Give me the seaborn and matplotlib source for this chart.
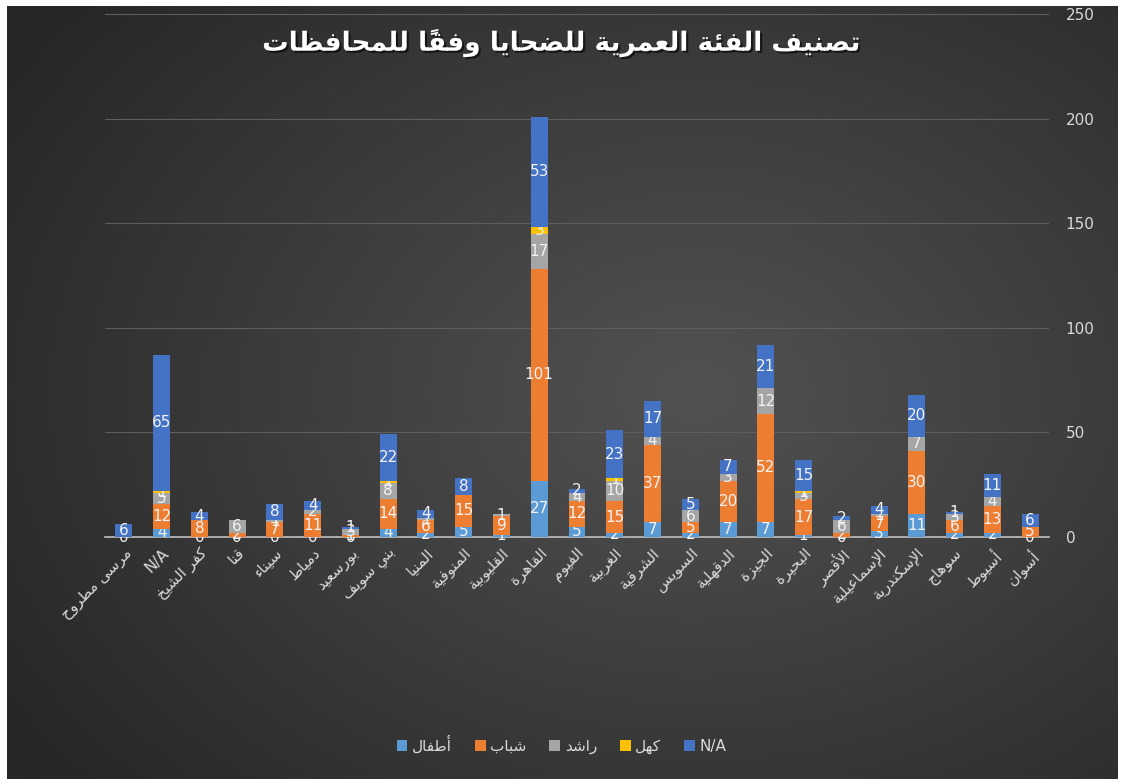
import numpy as np
import pandas as pd
import matplotlib
matplotlib.use("Agg")
import matplotlib.pyplot as plt
import matplotlib.patheffects as pe
from matplotlib.patches import Patch
import seaborn as sns

# data (left -> right)
governorates = ["مرسى مطروح", "N/A", "كفر الشيخ", "قنا", "سيناء", "دمياط", "بورسعيد",
                "بني سويف", "المنيا", "المنوفية", "القليوبية", "القاهرة", "الفيوم",
                "الغربية", "الشرقية", "السويس", "الدقهلية", "الجيزة", "البحيرة",
                "الأقصر", "الإسماعيلية", "الإسكندرية", "سوهاج", "أسيوط", "أسوان"]
children = [0, 4, 0, 0, 0, 0, 0, 4, 2, 5, 1, 27, 5, 2, 7, 2, 7, 7, 1, 0, 3, 11, 2, 2, 0]
youth    = [0, 12, 8, 2, 7, 11, 1, 14, 6, 15, 9, 101, 12, 15, 37, 5, 20, 52, 17, 2, 7, 30, 6, 13, 5]
adults   = [0, 5, 0, 6, 1, 2, 3, 8, 1, 0, 1, 17, 4, 10, 4, 6, 3, 12, 3, 6, 1, 7, 3, 4, 0]
elderly  = [0, 1, 0, 0, 0, 0, 0, 1, 0, 0, 0, 3, 0, 1, 0, 0, 0, 0, 1, 0, 0, 0, 0, 0, 0]
unknown  = [6, 65, 4, 0, 8, 4, 1, 22, 4, 8, 0, 53, 2, 23, 17, 5, 7, 21, 15, 2, 4, 20, 1, 11, 6]

series_names = ["أطفال", "شباب", "راشد", "كهل", "N/A"]
series_vals = [children, youth, adults, elderly, unknown]
colors = ["#5b9bd5", "#ed7d31", "#a5a5a5", "#ffc000", "#4472c4"]
title = "تصنيف الفئة العمرية للضحايا وفقاً للمحافظات"

# matplotlib has no arabic shaping -> map to presentation forms and reverse
FORMS = {
    'ء': (0xFE80, 1), 'آ': (0xFE81, 2), 'أ': (0xFE83, 2), 'ؤ': (0xFE85, 2), 'إ': (0xFE87, 2),
    'ئ': (0xFE89, 4), 'ا': (0xFE8D, 2), 'ب': (0xFE8F, 4), 'ة': (0xFE93, 2), 'ت': (0xFE95, 4),
    'ث': (0xFE99, 4), 'ج': (0xFE9D, 4), 'ح': (0xFEA1, 4), 'خ': (0xFEA5, 4), 'د': (0xFEA9, 2),
    'ذ': (0xFEAB, 2), 'ر': (0xFEAD, 2), 'ز': (0xFEAF, 2), 'س': (0xFEB1, 4), 'ش': (0xFEB5, 4),
    'ص': (0xFEB9, 4), 'ض': (0xFEBD, 4), 'ط': (0xFEC1, 4), 'ظ': (0xFEC5, 4), 'ع': (0xFEC9, 4),
    'غ': (0xFECD, 4), 'ف': (0xFED1, 4), 'ق': (0xFED5, 4), 'ك': (0xFED9, 4), 'ل': (0xFEDD, 4),
    'م': (0xFEE1, 4), 'ن': (0xFEE5, 4), 'ه': (0xFEE9, 4), 'و': (0xFEED, 2), 'ى': (0xFEEF, 2),
    'ي': (0xFEF1, 4),
}
LAM_ALEF = {'ا': 0xFEFB, 'أ': 0xFEF7, 'إ': 0xFEF9, 'آ': 0xFEF5}
MARKS = set(chr(c) for c in range(0x064B, 0x0653))


def shape(text):
    if not any(ch in FORMS for ch in text):
        return text
    clusters = []
    for ch in text:
        if ch in MARKS and clusters:
            clusters[-1][1] += ch
        else:
            clusters.append([ch, ''])
    merged = []
    i = 0
    while i < len(clusters):
        b, m = clusters[i]
        if b == 'ل' and i + 1 < len(clusters) and clusters[i + 1][0] in LAM_ALEF:
            merged.append(['LA' + clusters[i + 1][0], m + clusters[i + 1][1]])
            i += 2
        else:
            merged.append([b, m])
            i += 1

    def dual(c):
        return c in FORMS and FORMS[c][1] == 4

    def joinable(c):
        return c is not None and (c.startswith('LA') or (c in FORMS and FORMS[c][1] > 1))

    out = []
    for i, (b, m) in enumerate(merged):
        prev = merged[i - 1][0] if i > 0 else None
        nxt = merged[i + 1][0] if i + 1 < len(merged) else None
        p = prev is not None and dual(prev)
        if b.startswith('LA'):
            out.append(chr(LAM_ALEF[b[2]] + (1 if p else 0)) + m)
            continue
        if b not in FORMS:
            out.append(b + m)
            continue
        start, n = FORMS[b]
        nx = n == 4 and joinable(nxt)
        if n == 1:
            idx = 0
        elif n == 2:
            idx = 1 if p else 0
        else:
            idx = (3 if nx else 1) if p else (2 if nx else 0)
        out.append(chr(start + idx) + m)
    return ''.join(reversed(out))


sns.set_theme(style="dark")
plt.rcParams['font.family'] = ['DejaVu Sans']

fig = plt.figure(figsize=(11.23, 7.84), dpi=100)
fig.patch.set_facecolor("white")

# dark radial gradient background
bg = fig.add_axes([7 / 1123, 5 / 784, 1111 / 1123, 773 / 784], zorder=0)
yy, xx = np.mgrid[0:1:300j, 0:1:400j]
r = np.sqrt(((xx - 0.62) / 0.75) ** 2 + ((yy - 0.5) / 0.8) ** 2)
r = np.clip(r, 0, 1)
c0, c1 = np.array([0x52, 0x52, 0x52]) / 255, np.array([0x26, 0x26, 0x26]) / 255
img = c0[None, None, :] * (1 - r[..., None]) + c1[None, None, :] * r[..., None]
bg.imshow(img, aspect="auto", extent=[0, 1, 0, 1])
bg.set_axis_off()

ax = fig.add_axes([105 / 1123, 247 / 784, 944 / 1123, 523 / 784], zorder=1)
ax.patch.set_alpha(0)

bottom = np.zeros(len(governorates))
for name, vals, col in zip(series_names, series_vals, colors):
    df = pd.DataFrame({"gov": governorates, "n": vals})
    sns.barplot(data=df, x="gov", y="n", order=governorates, color=col, saturation=1,
                width=0.45, bottom=bottom, errorbar=None, linewidth=0, ax=ax, zorder=3)
    cont = ax.containers[-1]
    if name == series_names[0]:
        labs = [str(v) for v in vals]
    else:
        labs = [str(v) if v > 0 else "" for v in vals]
    ax.bar_label(cont, labels=labs, label_type="center", color="#f2f2f2", fontsize=11)
    bottom = bottom + np.array(vals)

ax.set_ylim(0, 250)
ax.set_xlim(-0.5, len(governorates) - 0.5)
ax.set_yticks(range(0, 251, 50))
ax.yaxis.tick_right()
ax.grid(axis="y", color="#5e5e5e", linewidth=0.8, zorder=0)
ax.grid(axis="x", visible=False)
for s in ["top", "left", "right"]:
    ax.spines[s].set_visible(False)
ax.spines["bottom"].set_color("#bfbfbf")
ax.spines["bottom"].set_linewidth(1.2)
ax.tick_params(axis="y", colors="#d9d9d9", labelsize=11, length=0, pad=12)
ax.tick_params(axis="x", colors="#d9d9d9", length=0, pad=6)
ax.set_xticks(range(len(governorates)))
ax.set_xticklabels([shape(g) for g in governorates], rotation=45, ha="right",
                   rotation_mode="anchor", fontsize=11, color="#d9d9d9")
ax.set_xlabel("")
ax.set_ylabel("")

fig.text(0.5, 0.945, shape(title), ha="center", va="center", fontsize=19,
         fontweight="bold", color="white",
         path_effects=[pe.withSimplePatchShadow(offset=(1.5, -1.5), shadow_rgbFace="black", alpha=0.6)])

handles = [Patch(facecolor=c, edgecolor="none") for c in colors]
leg = fig.legend(handles, [shape(n) for n in series_names], loc="center", bbox_to_anchor=(0.5, 0.05),
                 ncol=5, frameon=False, fontsize=11, handlelength=0.7, handleheight=0.7,
                 handletextpad=0.3, columnspacing=1.5)
for t in leg.get_texts():
    t.set_color("#d9d9d9")

fig.savefig("out.png", dpi=100)
